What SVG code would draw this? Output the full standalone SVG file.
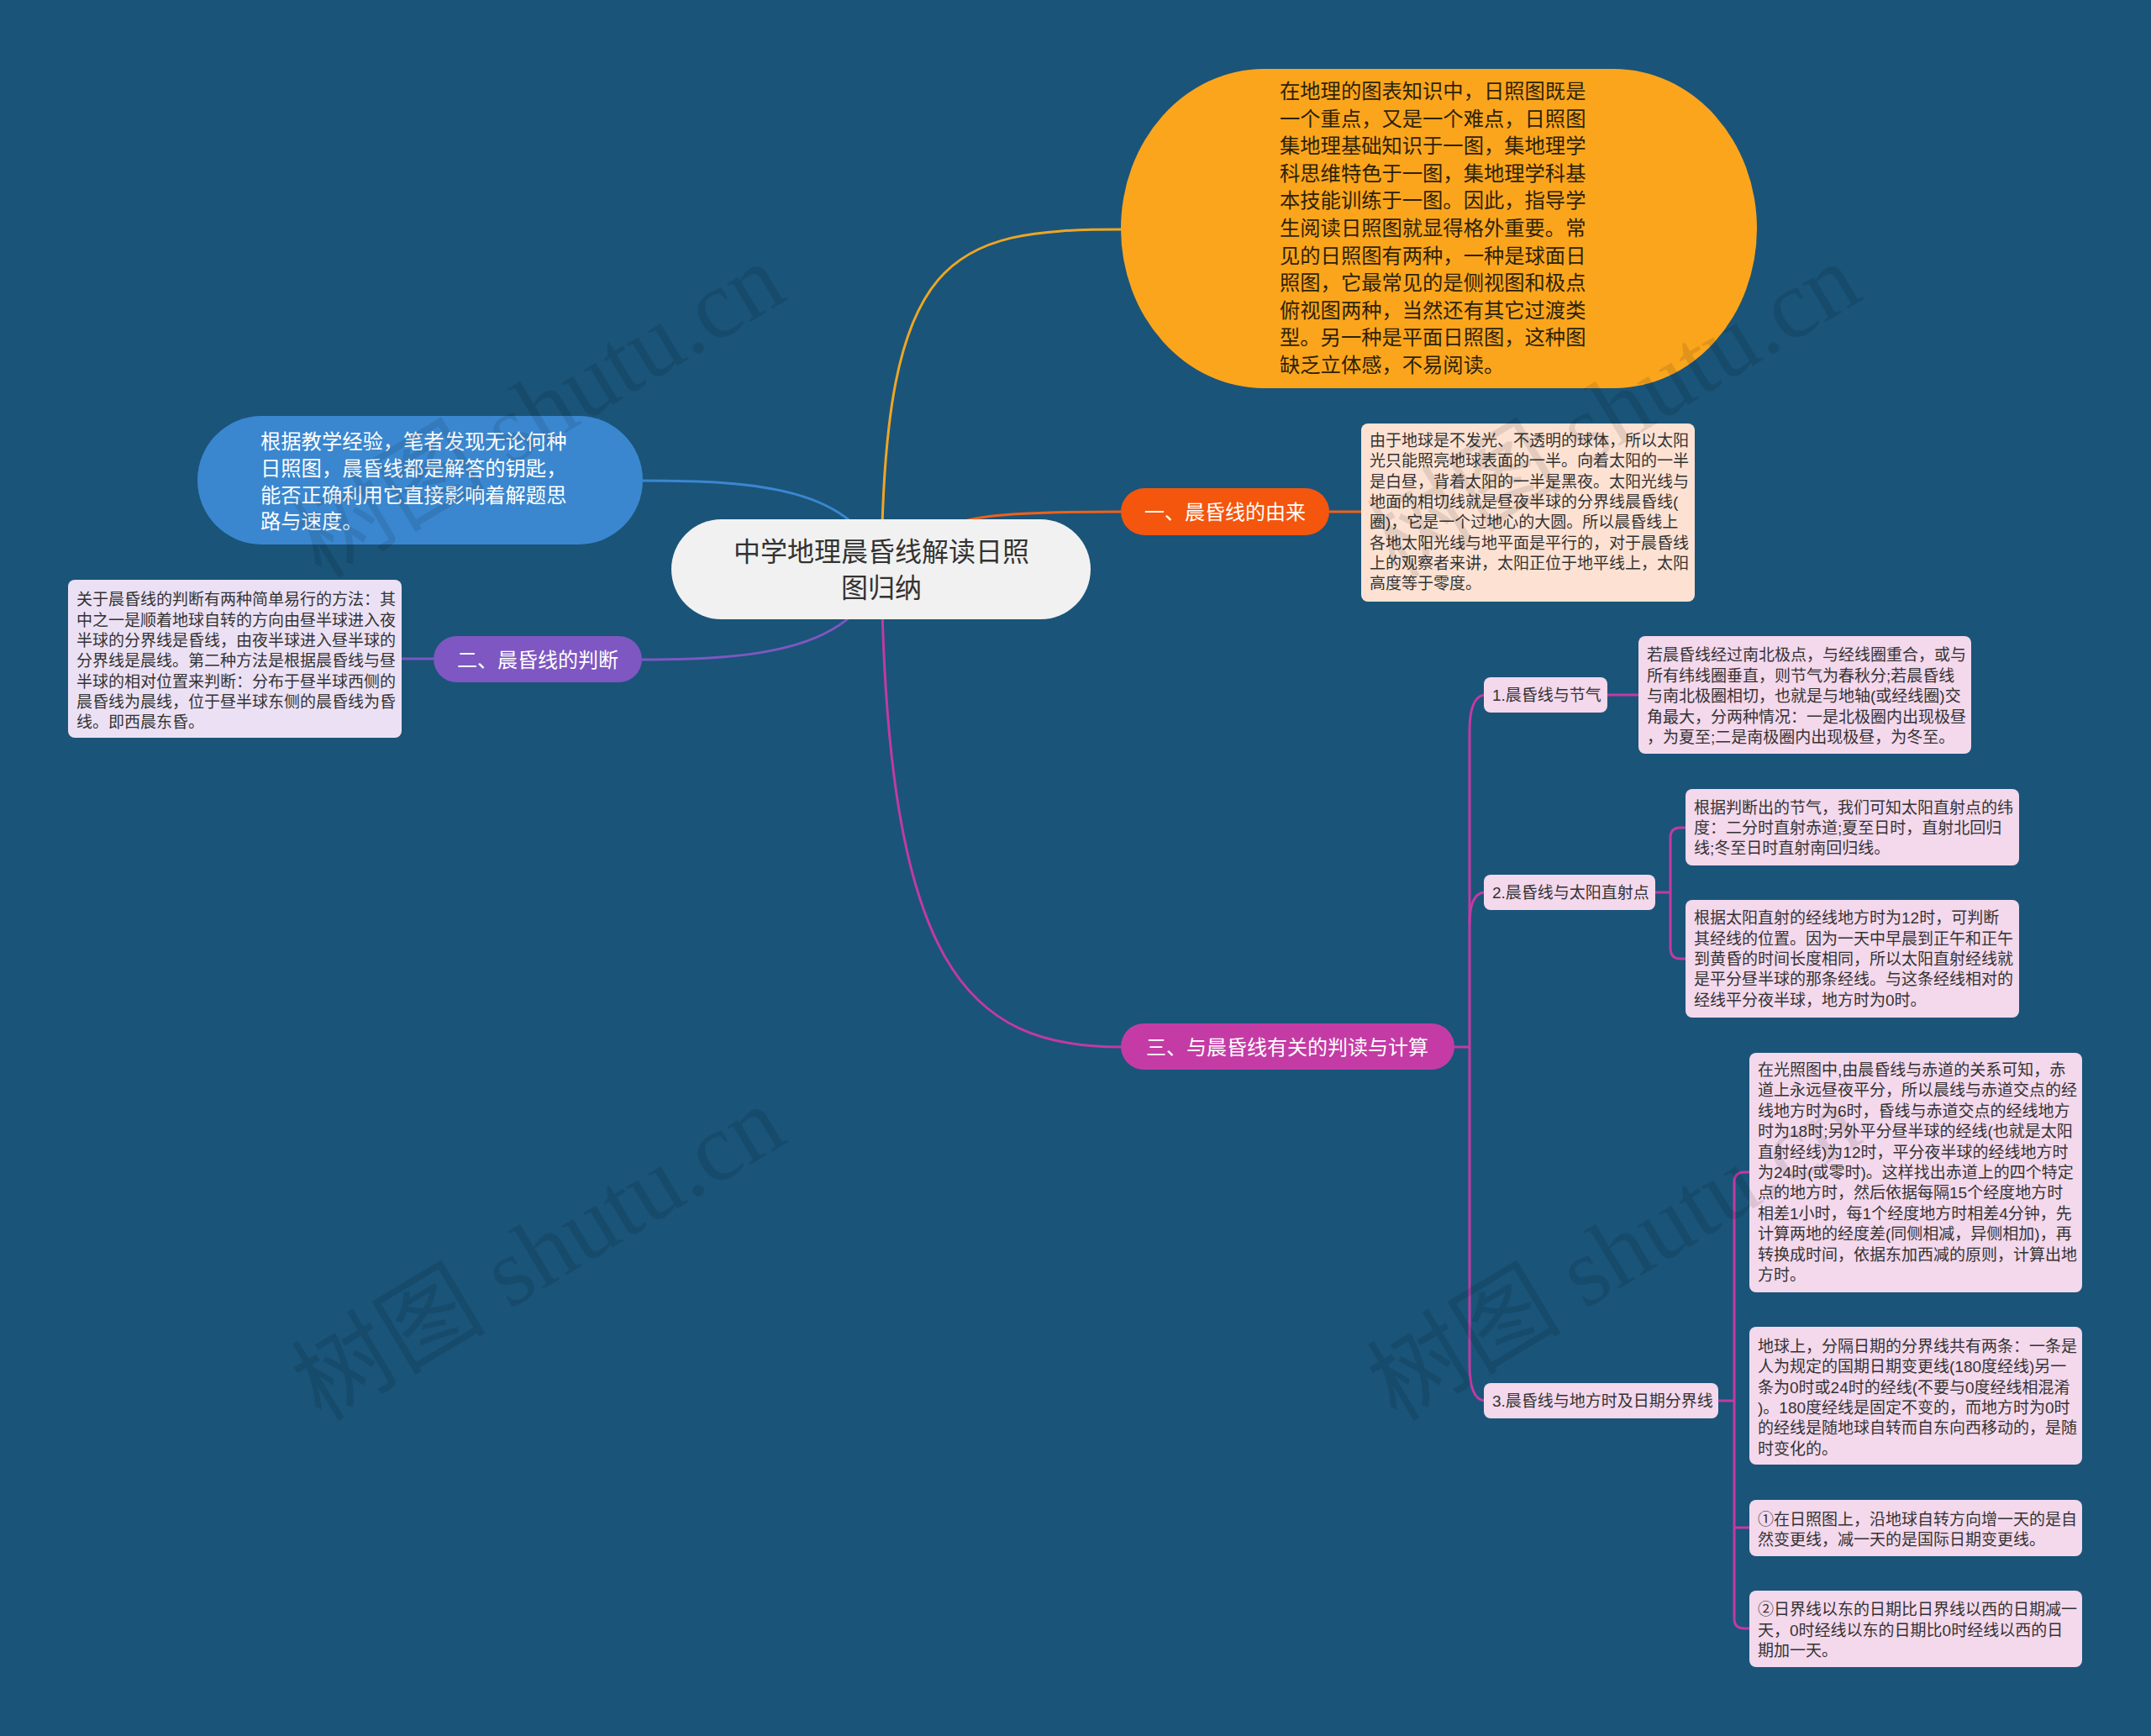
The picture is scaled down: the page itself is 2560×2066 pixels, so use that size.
<svg xmlns="http://www.w3.org/2000/svg" width="2560" height="2066" viewBox="0 0 2560 2066">
<style>
text{font-family:"Liberation Sans","Noto Sans CJK SC",sans-serif;dominant-baseline:central}
.c{fill:none;stroke-width:3}
.big{font-size:24px}
.big2{font-size:24.3px}
.sm{font-size:19px;fill:#333}
.w{fill:#fff}
.dk{fill:#333}
.wm{font-family:"Liberation Serif","Noto Sans CJK SC",serif;font-size:116px;fill:#000;fill-opacity:0.1;dominant-baseline:alphabetic}
</style>
<rect width="2560" height="2066" fill="#1a5479"/>
<g id="connectors">
<path class="c" stroke="#eea624" d="M1049,677 C1052,300 1130,273 1334,273"/>
<path class="c" stroke="#3a87d0" d="M764,572 C900,572 1020,580 1049,677"/>
<path class="c" stroke="#7e57c2" d="M764,785 C900,785 1020,774 1049,677"/>
<path class="c" stroke="#f0601a" d="M1100,640 C1140,612 1200,609 1334,609"/>
<path class="c" stroke="#f0601a" d="M1582,609 H1620"/>
<path class="c" stroke="#7e57c2" d="M516,784 H478"/>
<path class="c" stroke="#c23aa3" d="M1049,677 C1055,1150 1150,1246 1334,1246"/>
<path class="c" stroke="#c23aa3" d="M1731,1246 H1749"/>
<path class="c" stroke="#c23aa3" d="M1766,827 Q1749,830 1749,870 V1625 Q1749,1664 1766,1667"/>
<path class="c" stroke="#c23aa3" d="M1749,1100 Q1749,1064 1766,1062"/>
<path class="c" stroke="#c23aa3" d="M1913,827 H1950"/>
<path class="c" stroke="#c23aa3" d="M1970,1062 H1988"/>
<path class="c" stroke="#c23aa3" d="M2006,985 H2000 Q1988,985 1988,997 V1128 Q1988,1141 2000,1141 H2006"/>
<path class="c" stroke="#c23aa3" d="M2045,1667 H2064"/>
<path class="c" stroke="#c23aa3" d="M2082,1395 H2076 Q2064,1395 2064,1407 V1926 Q2064,1938 2076,1938 H2082"/>
<path class="c" stroke="#c23aa3" d="M2064,1818 Q2064,1818 2082,1818"/>
</g>
<g id="root">
<rect x="799" y="618" width="499" height="119" rx="59.5" fill="#f1f1f1"/>
<text class="dk" font-size="32" text-anchor="middle"><tspan x="1049" y="657">中学地理晨昏线解读日照</tspan><tspan x="1049" y="700">图归纳</tspan></text>
</g>
<g id="intro">
<rect x="1334" y="82" width="757" height="380" rx="170" ry="190" fill="#fba51d"/>
<text class="big2" fill="#2d2206"><tspan x="1523" y="108">在地理的图表知识中，日照图既是</tspan><tspan x="1523" y="140.6">一个重点，又是一个难点，日照图</tspan><tspan x="1523" y="173.2">集地理基础知识于一图，集地理学</tspan><tspan x="1523" y="205.8">科思维特色于一图，集地理学科基</tspan><tspan x="1523" y="238.4">本技能训练于一图。因此，指导学</tspan><tspan x="1523" y="271">生阅读日照图就显得格外重要。常</tspan><tspan x="1523" y="303.6">见的日照图有两种，一种是球面日</tspan><tspan x="1523" y="336.2">照图，它最常见的是侧视图和极点</tspan><tspan x="1523" y="368.8">俯视图两种，当然还有其它过渡类</tspan><tspan x="1523" y="401.4">型。另一种是平面日照图，这种图</tspan><tspan x="1523" y="434">缺乏立体感，不易阅读。</tspan></text>
</g>
<g id="experience">
<rect x="235" y="495" width="530" height="153" rx="76.5" fill="#3a87d0"/>
<text class="big2 w"><tspan x="310" y="525">根据教学经验，笔者发现无论何种</tspan><tspan x="310" y="557">日照图，晨昏线都是解答的钥匙，</tspan><tspan x="310" y="588.5">能否正确利用它直接影响着解题思</tspan><tspan x="310" y="620">路与速度。</tspan></text>
</g>
<g id="b1">
<rect x="1334" y="581" width="248" height="56" rx="28" fill="#f4560d"/>
<text class="big w" text-anchor="middle" x="1458" y="609">一、晨昏线的由来</text>
</g>
<g id="b1-detail">
<rect x="1620" y="504" width="397" height="212" rx="8" fill="#fde2d3"/>
<text class="sm"><tspan x="1630" y="524">由于地球是不发光、不透明的球体，所以太阳</tspan><tspan x="1630" y="548.3">光只能照亮地球表面的一半。向着太阳的一半</tspan><tspan x="1630" y="572.6">是白昼，背着太阳的一半是黑夜。太阳光线与</tspan><tspan x="1630" y="596.9">地面的相切线就是昼夜半球的分界线晨昏线(</tspan><tspan x="1630" y="621.2">圈)，它是一个过地心的大圆。所以晨昏线上</tspan><tspan x="1630" y="645.5">各地太阳光线与地平面是平行的，对于晨昏线</tspan><tspan x="1630" y="669.8">上的观察者来讲，太阳正位于地平线上，太阳</tspan><tspan x="1630" y="694">高度等于零度。</tspan></text>
</g>
<g id="b2">
<rect x="516" y="757" width="248" height="55" rx="27.5" fill="#7e57c2"/>
<text class="big w" text-anchor="middle" x="640" y="785">二、晨昏线的判断</text>
</g>
<g id="b2-detail">
<rect x="81" y="690" width="397" height="188" rx="8" fill="#ece1f4"/>
<text class="sm"><tspan x="91" y="713">关于晨昏线的判断有两种简单易行的方法：其</tspan><tspan x="91" y="737.5">中之一是顺着地球自转的方向由昼半球进入夜</tspan><tspan x="91" y="762">半球的分界线是昏线，由夜半球进入昼半球的</tspan><tspan x="91" y="786">分界线是晨线。第二种方法是根据晨昏线与昼</tspan><tspan x="91" y="810.5">半球的相对位置来判断：分布于昼半球西侧的</tspan><tspan x="91" y="835">晨昏线为晨线，位于昼半球东侧的晨昏线为昏</tspan><tspan x="91" y="859">线。即西晨东昏。</tspan></text>
</g>
<g id="b3">
<rect x="1334" y="1218" width="397" height="55" rx="27.5" fill="#c53ba5"/>
<text class="big w" text-anchor="middle" x="1532" y="1246">三、与晨昏线有关的判读与计算</text>
</g>
<g id="s1">
<rect x="1766" y="806" width="147" height="42" rx="8" fill="#f4d8ec"/>
<text class="sm" x="1776" y="827">1.晨昏线与节气</text>
</g>
<g id="s1-detail">
<rect x="1950" y="757" width="396" height="140" rx="8" fill="#f4d8ec"/>
<text class="sm"><tspan x="1960" y="779">若晨昏线经过南北极点，与经线圈重合，或与</tspan><tspan x="1960" y="803.5">所有纬线圈垂直，则节气为春秋分;若晨昏线</tspan><tspan x="1960" y="828">与南北极圈相切，也就是与地轴(或经线圈)交</tspan><tspan x="1960" y="852.5">角最大，分两种情况：一是北极圈内出现极昼</tspan><tspan x="1960" y="877">，为夏至;二是南极圈内出现极昼，为冬至。</tspan></text>
</g>
<g id="s2">
<rect x="1766" y="1041" width="204" height="42" rx="8" fill="#f4d8ec"/>
<text class="sm" x="1776" y="1062">2.晨昏线与太阳直射点</text>
</g>
<g id="s2-detail-a">
<rect x="2006" y="939" width="397" height="91" rx="8" fill="#f4d8ec"/>
<text class="sm"><tspan x="2016" y="961">根据判断出的节气，我们可知太阳直射点的纬</tspan><tspan x="2016" y="985">度：二分时直射赤道;夏至日时，直射北回归</tspan><tspan x="2016" y="1009">线;冬至日时直射南回归线。</tspan></text>
</g>
<g id="s2-detail-b">
<rect x="2006" y="1071" width="397" height="140" rx="8" fill="#f4d8ec"/>
<text class="sm"><tspan x="2016" y="1092">根据太阳直射的经线地方时为12时，可判断</tspan><tspan x="2016" y="1116.5">其经线的位置。因为一天中早晨到正午和正午</tspan><tspan x="2016" y="1141">到黄昏的时间长度相同，所以太阳直射经线就</tspan><tspan x="2016" y="1165">是平分昼半球的那条经线。与这条经线相对的</tspan><tspan x="2016" y="1189.5">经线平分夜半球，地方时为0时。</tspan></text>
</g>
<g id="s3">
<rect x="1766" y="1646" width="279" height="42" rx="8" fill="#f4d8ec"/>
<text class="sm" x="1776" y="1667">3.晨昏线与地方时及日期分界线</text>
</g>
<g id="s3-detail-a">
<rect x="2082" y="1253" width="396" height="285" rx="8" fill="#f4d8ec"/>
<text class="sm"><tspan x="2092" y="1273">在光照图中,由晨昏线与赤道的关系可知，赤</tspan><tspan x="2092" y="1297.4">道上永远昼夜平分，所以晨线与赤道交点的经</tspan><tspan x="2092" y="1321.8">线地方时为6时，昏线与赤道交点的经线地方</tspan><tspan x="2092" y="1346.2">时为18时;另外平分昼半球的经线(也就是太阳</tspan><tspan x="2092" y="1370.6">直射经线)为12时，平分夜半球的经线地方时</tspan><tspan x="2092" y="1395">为24时(或零时)。这样找出赤道上的四个特定</tspan><tspan x="2092" y="1419.4">点的地方时，然后依据每隔15个经度地方时</tspan><tspan x="2092" y="1443.8">相差1小时，每1个经度地方时相差4分钟，先</tspan><tspan x="2092" y="1468.2">计算两地的经度差(同侧相减，异侧相加)，再</tspan><tspan x="2092" y="1492.6">转换成时间，依据东加西减的原则，计算出地</tspan><tspan x="2092" y="1517">方时。</tspan></text>
</g>
<g id="s3-detail-b">
<rect x="2082" y="1579" width="396" height="164" rx="8" fill="#f4d8ec"/>
<text class="sm"><tspan x="2092" y="1602">地球上，分隔日期的分界线共有两条：一条是</tspan><tspan x="2092" y="1626.3">人为规定的国期日期变更线(180度经线)另一</tspan><tspan x="2092" y="1650.6">条为0时或24时的经线(不要与0度经线相混淆</tspan><tspan x="2092" y="1674.9">)。180度经线是固定不变的，而地方时为0时</tspan><tspan x="2092" y="1699.2">的经线是随地球自转而自东向西移动的，是随</tspan><tspan x="2092" y="1723.5">时变化的。</tspan></text>
</g>
<g id="s3-detail-c">
<rect x="2082" y="1785" width="396" height="67" rx="8" fill="#f4d8ec"/>
<text class="sm"><tspan x="2092" y="1808">①在日照图上，沿地球自转方向增一天的是自</tspan><tspan x="2092" y="1832">然变更线，减一天的是国际日期变更线。</tspan></text>
</g>
<g id="s3-detail-d">
<rect x="2082" y="1893" width="396" height="91" rx="8" fill="#f4d8ec"/>
<text class="sm"><tspan x="2092" y="1915">②日界线以东的日期比日界线以西的日期减一</tspan><tspan x="2092" y="1939.5">天，0时经线以东的日期比0时经线以西的日</tspan><tspan x="2092" y="1963.5">期加一天。</tspan></text>
</g>
<g id="watermarks">
<text class="wm" transform="translate(382,690) rotate(-31)">树图 shutu.cn</text>
<text class="wm" transform="translate(1662,690) rotate(-31)">树图 shutu.cn</text>
<text class="wm" transform="translate(382,1693) rotate(-31)">树图 shutu.cn</text>
<text class="wm" transform="translate(1662,1693) rotate(-31)">树图 shutu.cn</text>
</g>
</svg>
